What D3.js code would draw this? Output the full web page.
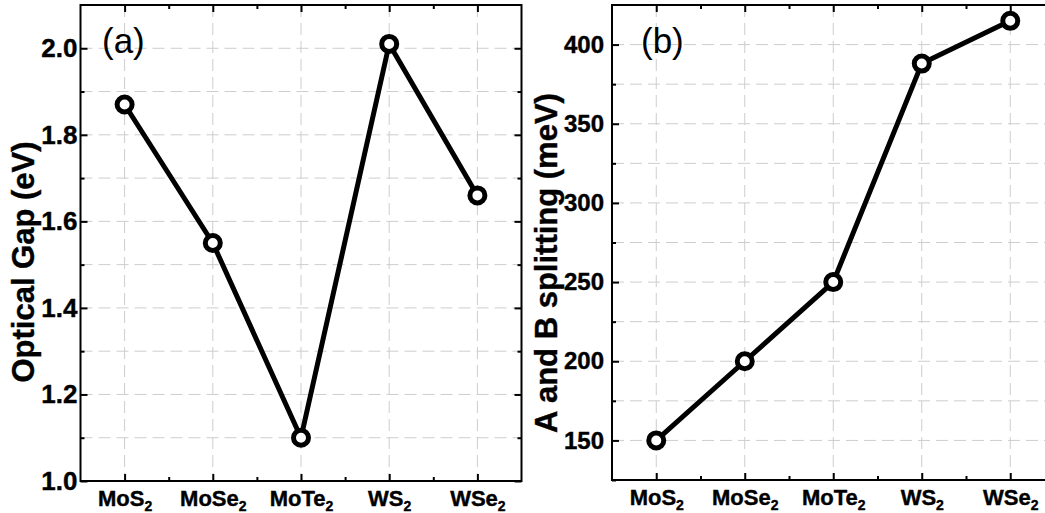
<!DOCTYPE html>
<html>
<head>
<meta charset="utf-8">
<script src="https://cdn.jsdelivr.net/npm/d3@7"></script>
<style>
  html, body { margin: 0; padding: 0; background: #fff; }
  svg text { font-family: "Liberation Sans", Arial, sans-serif; }
</style>
</head>
<body>
<svg id="chart" width="1045" height="513"></svg>
<script>
// Compounds: base formula and chalcogen subscript
const compounds = ["MoS", "MoSe", "MoTe", "WS", "WSe"];
const subscripts = ["2", "2", "2", "2", "2"];

// (a) optical gap, eV
const opticalGap = [1.87, 1.55, 1.10, 2.01, 1.66];
const gapMajorTicks = [1.0, 1.2, 1.4, 1.6, 1.8, 2.0];
const gapMinorTicks = [1.1, 1.3, 1.5, 1.7, 1.9, 2.1];

// (b) A–B exciton splitting, meV
const abSplitting = [150, 200, 250, 388, 415];
const splitMajorTicks = [150, 200, 250, 300, 350, 400];
const splitMinorTicks = [125, 175, 225, 275, 325, 375, 425];

const svg = d3.select("#chart");

function drawPanel(cfg) {
  const { left, right, top, bottom, yDomain, values, major, minor,
          title, titleX, titleY, tag, tagX, tagY, labelPad, labelSize, fmt } = cfg;

  const x = d3.scalePoint().domain(compounds).range([left, right]).padding(0.5);
  const y = d3.scaleLinear().domain(yDomain).range([bottom, top]);

  const g = svg.append("g");

  // dashed grid
  const grid = g.append("g")
    .attr("stroke", "#cdcdcd").attr("stroke-width", 1)
    .attr("stroke-dasharray", "12,6").attr("fill", "none");
  grid.selectAll("line.h").data(major.concat(minor).filter(v => y(v) > top + 1 && y(v) < bottom - 1))
    .join("line").attr("class", "h")
    .attr("x1", left).attr("x2", right)
    .attr("y1", d => y(d)).attr("y2", d => y(d));
  grid.selectAll("line.v").data(compounds)
    .join("line").attr("class", "v")
    .attr("x1", d => x(d)).attr("x2", d => x(d))
    .attr("y1", top).attr("y2", bottom);

  // category midpoints for minor x ticks
  const step = x.step();
  const mids = compounds.slice(0, -1).map(c => x(c) + step / 2);
  const xMid = d3.scaleLinear().domain([0, 1]).range([0, 1]);

  // left axis with inward ticks
  const leftAxis = g.append("g").attr("transform", `translate(${left},0)`)
    .call(d3.axisLeft(y).tickValues(major).tickFormat(fmt)
      .tickSizeInner(-7).tickSizeOuter(0).tickPadding(labelPad));
  g.append("g").attr("transform", `translate(${left},0)`)
    .call(d3.axisLeft(y).tickValues(minor.filter(v => v < yDomain[1])).tickFormat("")
      .tickSizeInner(-4).tickSizeOuter(0));

  // right axis ticks
  g.append("g").attr("transform", `translate(${right},0)`)
    .call(d3.axisRight(y).tickValues(major).tickFormat("").tickSizeInner(-7).tickSizeOuter(0));
  g.append("g").attr("transform", `translate(${right},0)`)
    .call(d3.axisRight(y).tickValues(minor.filter(v => v < yDomain[1])).tickFormat("").tickSizeInner(-4).tickSizeOuter(0));

  // bottom axis
  const bottomAxis = g.append("g").attr("transform", `translate(0,${bottom})`)
    .call(d3.axisBottom(x).tickSizeInner(-7).tickSizeOuter(0).tickPadding(9));
  g.append("g").attr("transform", `translate(0,${bottom})`)
    .call(d3.axisBottom(xMid).tickValues(mids).tickFormat("").tickSizeInner(-4).tickSizeOuter(0));

  // top axis ticks
  g.append("g").attr("transform", `translate(0,${top})`)
    .call(d3.axisTop(x).tickFormat("").tickSizeInner(-7).tickSizeOuter(0));
  g.append("g").attr("transform", `translate(0,${top})`)
    .call(d3.axisTop(xMid).tickValues(mids).tickFormat("").tickSizeInner(-4).tickSizeOuter(0));

  g.selectAll(".domain").remove();
  g.selectAll(".tick line").attr("stroke", "#000").attr("stroke-width", 2);

  leftAxis.selectAll(".tick text")
    .attr("font-size", labelSize).attr("font-weight", "bold").attr("fill", "#000")
    .attr("stroke", "#000").attr("stroke-width", 0.4);

  // compound labels with subscripts
  bottomAxis.selectAll(".tick text").each(function (d, i) {
    const t = d3.select(this);
    t.text(null).attr("font-size", 22).attr("font-weight", "bold").attr("fill", "#000")
      .attr("stroke", "#000").attr("stroke-width", 0.4)
      .attr("dy", "0.71em");
    t.append("tspan").text(d);
    t.append("tspan").text(subscripts[i]).attr("font-size", 14).attr("dy", 5);
  });

  // frame
  g.append("rect")
    .attr("x", left).attr("y", top)
    .attr("width", right - left).attr("height", bottom - top)
    .attr("fill", "none").attr("stroke", "#000").attr("stroke-width", 2);

  // data line and markers
  const line = d3.line().x((d, i) => x(compounds[i])).y(d => y(d));
  g.append("path").datum(values)
    .attr("d", line).attr("fill", "none")
    .attr("stroke", "#000").attr("stroke-width", 5).attr("stroke-linejoin", "round");
  g.selectAll("circle.pt").data(values).join("circle").attr("class", "pt")
    .attr("cx", (d, i) => x(compounds[i])).attr("cy", d => y(d))
    .attr("r", 7.5).attr("fill", "#fff").attr("stroke", "#000").attr("stroke-width", 5);

  // axis title
  g.append("text")
    .attr("transform", `translate(${titleX},${titleY}) rotate(-90)`)
    .attr("text-anchor", "middle")
    .attr("font-size", 31).attr("font-weight", "bold").attr("fill", "#000")
    .attr("stroke", "#000").attr("stroke-width", 0.4)
    .text(title);

  // panel tag
  g.append("text").attr("x", tagX).attr("y", tagY)
    .attr("font-size", 35).attr("fill", "#000").text(tag);
}

drawPanel({
  left: 80.5, right: 521.5, top: 5, bottom: 481,
  yDomain: [1.0, 2.1], values: opticalGap,
  major: gapMajorTicks, minor: gapMinorTicks,
  fmt: d3.format(".1f"), labelPad: 3, labelSize: 26,
  title: "Optical Gap (eV)", titleX: 34, titleY: 262,
  tag: "(a)", tagX: 102, tagY: 53
});

drawPanel({
  left: 612, right: 1054.5, top: 5, bottom: 480,
  yDomain: [125, 425], values: abSplitting,
  major: splitMajorTicks, minor: splitMinorTicks,
  fmt: d3.format("d"), labelPad: 8, labelSize: 24,
  title: "A and B splitting (meV)", titleX: 557, titleY: 263,
  tag: "(b)", tagX: 641, tagY: 53
});
</script>
</body>
</html>
